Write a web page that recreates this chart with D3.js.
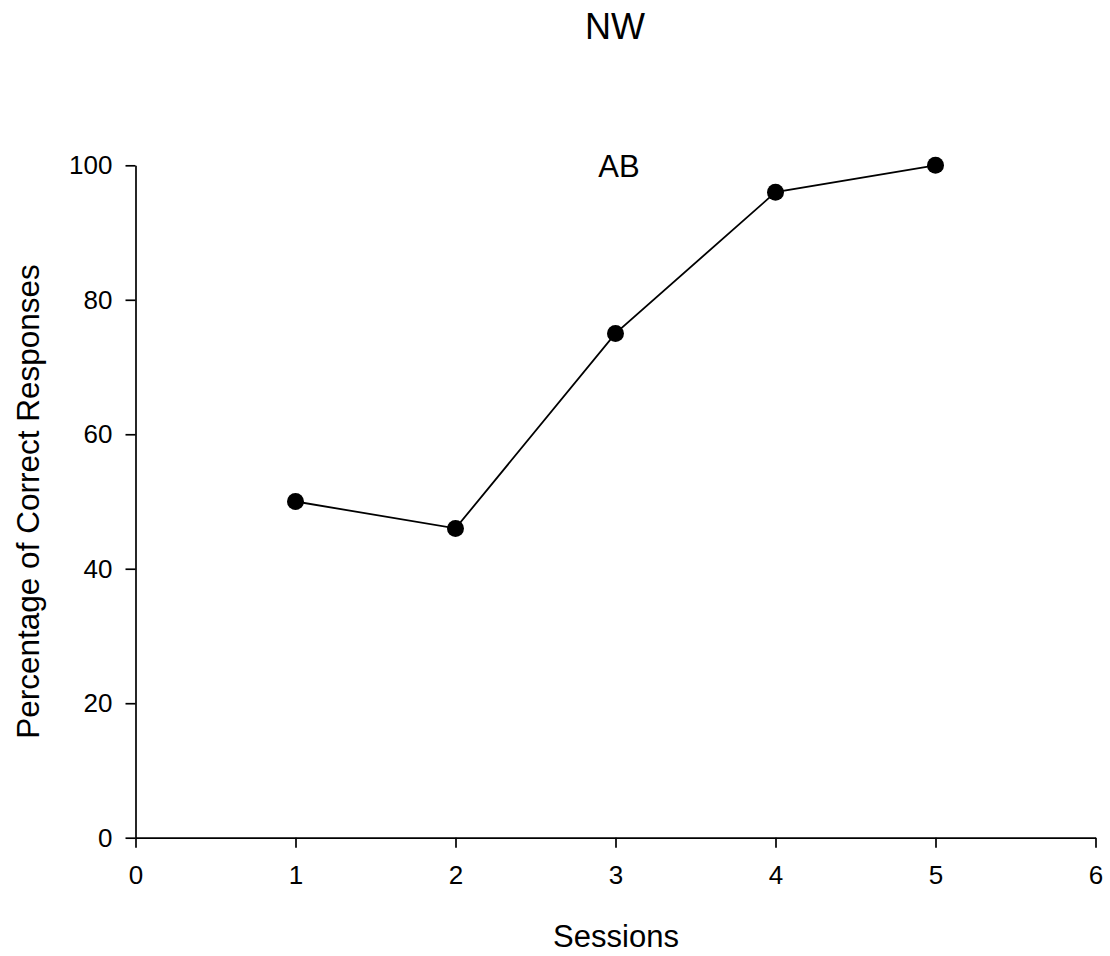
<!DOCTYPE html>
<html>
<head>
<meta charset="utf-8">
<script src="https://cdn.jsdelivr.net/npm/d3@7"></script>
<style>
  html, body { margin: 0; padding: 0; background: #fff; }
  svg { display: block; font-family: "Liberation Sans", Arial, sans-serif; }
</style>
</head>
<body>
<svg id="chart" width="1110" height="956"></svg>
<script>
// Data
const sessions = [1, 2, 3, 4, 5];
const percentCorrect = [50, 46, 75, 96, 100];
const xTicks = [0, 1, 2, 3, 4, 5, 6];
const yTicks = [0, 20, 40, 60, 80, 100];
const chartTitle = "NW";
const panelLabel = "AB";
const xTitle = "Sessions";
const yTitle = "Percentage of Correct Responses";

const svg = d3.select("#chart");
const x = d3.scaleLinear().domain([0, 6]).range([135.5, 1095.5]);
const y = d3.scaleLinear().domain([0, 100]).range([837.7, 165.3]);

const tickFont = 26;

const gx = svg.append("g")
  .attr("transform", `translate(0,${y(0)})`)
  .call(d3.axisBottom(x).tickValues(xTicks).tickFormat(d3.format("d")).tickSize(10).tickSizeOuter(0).tickPadding(18));
const gy = svg.append("g")
  .attr("transform", `translate(${x(0)},0)`)
  .call(d3.axisLeft(y).tickValues(yTicks).tickFormat(d3.format("d")).tickSize(10).tickSizeOuter(0).tickPadding(13));

[gx, gy].forEach(g => {
  g.select(".domain").attr("stroke", "#000").attr("stroke-width", 1.7);
  g.selectAll(".tick line").attr("stroke", "#000").attr("stroke-width", 1.7);
  g.selectAll(".tick text").attr("fill", "#000").style("font-size", tickFont + "px")
    .style("font-family", "'Liberation Sans', Arial, sans-serif");
});

const pts = sessions.map((s, i) => ({ s, v: percentCorrect[i] }));

svg.append("path")
  .datum(pts)
  .attr("fill", "none")
  .attr("stroke", "#000")
  .attr("stroke-width", 1.8)
  .attr("d", d3.line().x(d => x(d.s)).y(d => y(d.v)));

svg.append("g").selectAll("circle")
  .data(pts)
  .join("circle")
  .attr("cx", d => x(d.s))
  .attr("cy", d => y(d.v))
  .attr("r", 8.5)
  .attr("fill", "#000");

svg.append("text")
  .attr("x", 615).attr("y", 38.5)
  .attr("text-anchor", "middle")
  .style("font-size", "36px")
  .text(chartTitle);

svg.append("text")
  .attr("x", 619).attr("y", 176.5)
  .attr("text-anchor", "middle")
  .style("font-size", "31px")
  .text(panelLabel);

svg.append("text")
  .attr("x", 616).attr("y", 947)
  .attr("text-anchor", "middle")
  .style("font-size", "31px")
  .text(xTitle);

svg.append("text")
  .attr("transform", `translate(39,${(y(0) + y(100)) / 2}) rotate(-90)`)
  .attr("text-anchor", "middle")
  .style("font-size", "31.5px")
  .text(yTitle);
</script>
</body>
</html>
